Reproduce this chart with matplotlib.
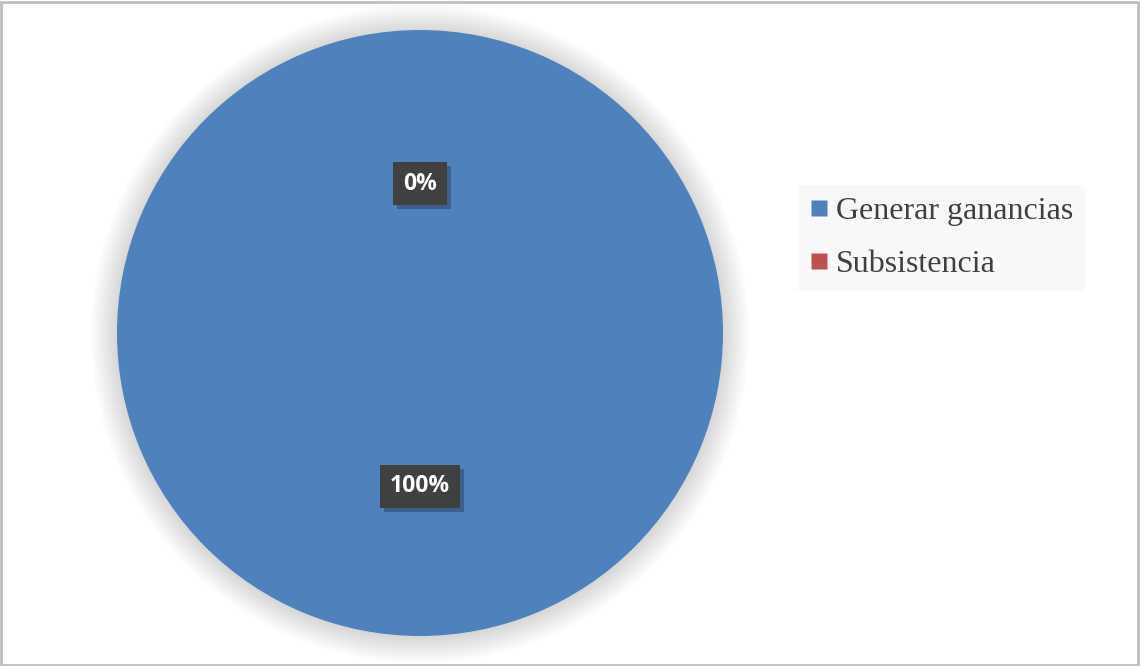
import numpy as np
import matplotlib.pyplot as plt
from matplotlib.patches import Circle, Rectangle
from matplotlib.lines import Line2D

categories = ['Generar ganancias', 'Subsistencia']
values = [100, 0]
colors = ['#4F81BD', '#C0504D']

plt.rcParams['hatch.color'] = '#555555'

fig = plt.figure(figsize=(11.4, 6.66), dpi=100)
ax = fig.add_axes([0, 0, 1, 1])
ax.axis('off')

cx, cy, r = 420, 333, 303

# soft shadow behind the pie
for i in range(14):
    ax.add_patch(Circle((cx, cy - 1), r + 26 - i * 2, color='#000000',
                        alpha=0.011, lw=0, zorder=0))

wedges, texts, autotexts = ax.pie(
    values, colors=colors, startangle=90, counterclock=False,
    center=(cx, cy), radius=r, autopct='%.0f%%', pctdistance=0.5,
    wedgeprops=dict(linewidth=0),
    textprops=dict(color='white', fontsize=16.5, fontweight='bold',
                   family='Open Sans'))
ax.set_xlim(0, 1140)
ax.set_ylim(0, 666)

for t in autotexts:
    t.set_zorder(5)
    x, y = t.get_position()
    t.set_position((x, y - 2))
    t.set_bbox(dict(boxstyle='square,pad=0.42', facecolor='#404040',
                    edgecolor='none', hatch='..'))

handles = [Line2D([], [], marker='s', linestyle='none', markersize=12,
                  markerfacecolor=c, markeredgecolor='none') for c in colors]
leg = ax.legend(handles, categories, loc='upper left',
                bbox_to_anchor=(798 / 1140, 1 - 185 / 666),
                prop=dict(family='Liberation Serif', size=23),
                frameon=True, fancybox=False, framealpha=1,
                facecolor='#f8f8f8', edgecolor='none',
                handlelength=0.55, handletextpad=0.25, labelspacing=0.72,
                borderpad=0.38, borderaxespad=0)
for t in leg.get_texts():
    t.set_color('#404040')

# drop shadows under the label boxes
fig.canvas.draw()
renderer = fig.canvas.get_renderer()
for t in autotexts:
    bb = t.get_bbox_patch().get_window_extent(renderer)
    (x0, y0), (x1, y1) = ax.transData.inverted().transform(
        [(bb.x0, bb.y0), (bb.x1, bb.y1)])
    ax.add_patch(Rectangle((x0 + 4, y0 - 4), x1 - x0, y1 - y0,
                           facecolor='black', edgecolor='none',
                           alpha=0.25, zorder=4))

# chart area border
fig.patches.append(Rectangle((0.001, 0.002), 0.997, 0.995,
                             transform=fig.transFigure, fill=False,
                             edgecolor='#c0c0c0', linewidth=2))

fig.savefig('out.png', dpi=100)
